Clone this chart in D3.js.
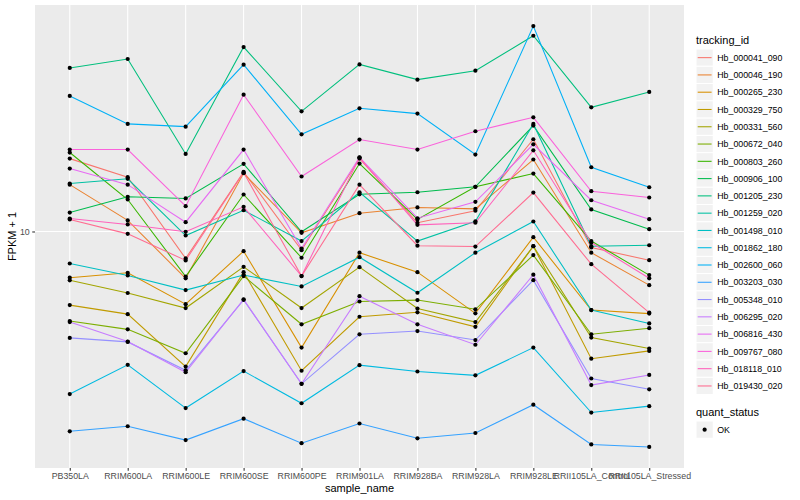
<!DOCTYPE html>
<html>
<head>
<meta charset="utf-8">
<script src="https://cdn.jsdelivr.net/npm/d3@7"></script>
<style>
  body { margin: 0; background: #fff; }
  text { font-family: "Liberation Sans", Arial, Helvetica, sans-serif; }
</style>
</head>
<body>
<svg id="chart" width="800" height="500"></svg>
<script>
const samples = ["PB350LA", "RRIM600LA", "RRIM600LE", "RRIM600SE", "RRIM600PE", "RRIM901LA",
  "RRIM928BA", "RRIM928LA", "RRIM928LE", "RRII105LA_Control", "RRII105LA_Stressed"];

const trackingIds = ["Hb_000041_090", "Hb_000046_190", "Hb_000265_230", "Hb_000329_750", "Hb_000331_560",
  "Hb_000672_040", "Hb_000803_260", "Hb_000906_100", "Hb_001205_230", "Hb_001259_020",
  "Hb_001498_010", "Hb_001862_180", "Hb_002600_060", "Hb_003203_030", "Hb_005348_010",
  "Hb_006295_020", "Hb_006816_430", "Hb_009767_080", "Hb_018118_010", "Hb_019430_020"];

// FPKM + 1 per sample, one array per gene (same order as samples)
const hb000041_090 = [16.39, 14.45, 8.33, 14.98, 8.81, 16.39, 10.61, 11.51, 18.69, 8.97, 8.23];
const hb000046_190 = [13.74, 10.78, 7.28, 14.84, 9.91, 11.32, 11.77, 11.66, 16.29, 8.66, 6.95];
const hb000265_230 = [7.31, 7.56, 6.11, 8.75, 4.55, 8.66, 7.59, 5.74, 9.62, 5.87, 5.73];
const hb000329_750 = [6.07, 5.71, 4.00, 7.59, 3.89, 5.61, 5.78, 5.24, 9.05, 4.22, 4.45];
const hb000331_560 = [7.18, 6.59, 5.95, 7.87, 5.95, 7.85, 5.93, 5.41, 9.05, 4.87, 4.52];
const hb000672_040 = [5.45, 5.15, 4.38, 7.39, 5.33, 6.22, 6.28, 5.90, 8.52, 4.98, 5.19];
const hb000803_260 = [17.08, 12.42, 7.37, 12.85, 8.37, 15.85, 10.85, 13.54, 14.81, 9.37, 7.44];
const hb000906_100 = [11.37, 12.65, 12.51, 15.82, 9.98, 12.87, 13.05, 13.54, 20.50, 11.61, 10.16];
const hb001205_230 = [30.31, 32.21, 16.92, 34.93, 22.59, 31.05, 28.00, 29.75, 37.71, 23.21, 25.76];
const hb001259_020 = [13.84, 14.29, 9.73, 11.55, 9.37, 13.05, 9.37, 10.72, 20.74, 9.05, 9.11];
const hb001498_010 = [8.05, 7.42, 6.72, 7.44, 6.89, 8.40, 6.60, 8.66, 10.70, 5.87, 5.36];
const hb001862_180 = [3.32, 4.05, 3.02, 3.88, 3.12, 4.04, 3.87, 3.77, 4.55, 2.93, 3.06];
const hb002600_060 = [25.07, 20.74, 20.36, 30.99, 19.33, 23.05, 22.24, 16.85, 40.27, 15.46, 13.50];
const hb003203_030 = [2.58, 2.67, 2.43, 2.81, 2.38, 2.72, 2.46, 2.55, 3.09, 2.36, 2.32];
const hb005348_010 = [4.86, 4.73, 3.90, 6.29, 3.56, 4.98, 5.09, 4.79, 7.19, 3.69, 3.43];
const hb006295_020 = [5.41, 4.74, 3.85, 6.31, 3.56, 6.45, 5.33, 4.64, 7.46, 3.53, 3.78];
const hb006816_430 = [15.32, 13.74, 10.65, 17.43, 8.91, 16.54, 10.94, 12.23, 18.06, 12.36, 10.87];
const hb009767_080 = [17.43, 17.43, 11.87, 25.29, 14.52, 18.65, 17.43, 19.73, 21.69, 13.14, 12.59];
const hb018118_010 = [10.92, 10.49, 9.98, 11.82, 7.39, 16.51, 10.46, 10.61, 17.34, 9.28, 7.28];
const hb019430_020 = [10.85, 9.84, 8.22, 14.91, 7.39, 13.74, 9.08, 9.03, 13.02, 8.01, 5.77];

const seriesValues = [hb000041_090, hb000046_190, hb000265_230, hb000329_750, hb000331_560,
  hb000672_040, hb000803_260, hb000906_100, hb001205_230, hb001259_020,
  hb001498_010, hb001862_180, hb002600_060, hb003203_030, hb005348_010,
  hb006295_020, hb006816_430, hb009767_080, hb018118_010, hb019430_020];

const yTicks = [10];
const quantStatus = ["OK"];

// ggplot2 default hue palette for 20 levels
const palette = ["#F8766D", "#EA8331", "#D89000", "#C09B00", "#A3A500", "#7CAE00", "#39B600", "#00BB4E",
  "#00BF7D", "#00C1A3", "#00BFC4", "#00BAE0", "#00B0F6", "#35A2FF", "#9590FF", "#C77CFF",
  "#E76BF3", "#FA62DB", "#FF62BC", "#FF6C91"];

const svg = d3.select("#chart");
const panel = { left: 35, right: 684, top: 5, bottom: 468 };

const x = d3.scalePoint()
  .domain(samples)
  .range([panel.left, panel.right])
  .padding(0.6);

// log scale with 5% expansion like ggplot
const allVals = seriesValues.flat();
const lo = Math.log10(d3.min(allVals)), hi = Math.log10(d3.max(allVals));
const pad = (hi - lo) * 0.05;
const y = d3.scaleLog()
  .domain([Math.pow(10, lo - pad), Math.pow(10, hi + pad)])
  .range([panel.bottom, panel.top]);

const color = d3.scaleOrdinal().domain(trackingIds).range(palette);

// panel background + grid
svg.append("rect")
  .attr("x", panel.left).attr("y", panel.top)
  .attr("width", panel.right - panel.left).attr("height", panel.bottom - panel.top)
  .attr("fill", "#EBEBEB");

svg.append("g").selectAll("line.vg")
  .data(samples).join("line")
  .attr("x1", d => x(d)).attr("x2", d => x(d))
  .attr("y1", panel.top).attr("y2", panel.bottom)
  .attr("stroke", "#fff").attr("stroke-width", 1.07);

svg.append("g").selectAll("line.hg")
  .data(yTicks).join("line")
  .attr("x1", panel.left).attr("x2", panel.right)
  .attr("y1", d => y(d)).attr("y2", d => y(d))
  .attr("stroke", "#fff").attr("stroke-width", 1.07);

// lines
const lineGen = d3.line()
  .x((d, i) => x(samples[i]))
  .y(d => y(d));

svg.append("g").selectAll("path")
  .data(seriesValues).join("path")
  .attr("d", d => lineGen(d))
  .attr("fill", "none")
  .attr("stroke", (d, i) => color(trackingIds[i]))
  .attr("stroke-width", 1.07);

// points
const pts = [];
seriesValues.forEach(vals => vals.forEach((v, i) => pts.push({ s: samples[i], v: v })));
svg.append("g").selectAll("circle")
  .data(pts).join("circle")
  .attr("cx", d => x(d.s)).attr("cy", d => y(d.v))
  .attr("r", 2.1).attr("fill", "#000");

// axes
const xAxis = d3.axisBottom(x).tickSize(2.75).tickPadding(2.5);
const gx = svg.append("g").attr("transform", `translate(0,${panel.bottom})`).call(xAxis);
const yAxis = d3.axisLeft(y).tickValues(yTicks).tickFormat(d3.format("d")).tickSize(2.75).tickPadding(2.5);
const gy = svg.append("g").attr("transform", `translate(${panel.left},0)`).call(yAxis);
[gx, gy].forEach(g => {
  g.select(".domain").remove();
  g.selectAll(".tick line").attr("stroke", "#333333").attr("stroke-width", 1.07);
  g.selectAll(".tick text").attr("fill", "#4D4D4D").style("font-size", "8.8px")
    .style("font-family", "'Liberation Sans', Arial, sans-serif");
});

// axis titles
svg.append("text")
  .attr("x", (panel.left + panel.right) / 2).attr("y", 492)
  .attr("text-anchor", "middle").style("font-size", "11px").text("sample_name");
svg.append("text")
  .attr("transform", `translate(16,${(panel.top + panel.bottom) / 2}) rotate(-90)`)
  .attr("text-anchor", "middle").style("font-size", "11px").text("FPKM + 1");

// legend: tracking_id
const lg = svg.append("g").attr("transform", "translate(696,0)");
const keySize = 17.28;
lg.append("text").attr("x", 0).attr("y", 44).style("font-size", "11px").text("tracking_id");
const rows = lg.selectAll("g.row")
  .data(trackingIds).join("g")
  .attr("transform", (d, i) => `translate(0,${49 + i * keySize})`);
rows.append("rect")
  .attr("width", keySize).attr("height", keySize)
  .attr("fill", "#F2F2F2").attr("stroke", "#fff").attr("stroke-width", 1);
rows.append("line")
  .attr("x1", 1.7).attr("x2", keySize - 1.7)
  .attr("y1", keySize / 2).attr("y2", keySize / 2)
  .attr("stroke", d => color(d)).attr("stroke-width", 1.07);
rows.append("text")
  .attr("x", keySize + 4).attr("y", keySize / 2 + 3.2)
  .style("font-size", "8.8px").text(d => d);

// legend: quant_status
const lq = svg.append("g").attr("transform", "translate(696,0)");
lq.append("text").attr("x", 0).attr("y", 416).style("font-size", "11px").text("quant_status");
const qrows = lq.selectAll("g.row")
  .data(quantStatus).join("g")
  .attr("transform", (d, i) => `translate(0,${421 + i * keySize})`);
qrows.append("rect")
  .attr("width", keySize).attr("height", keySize)
  .attr("fill", "#F2F2F2").attr("stroke", "#fff").attr("stroke-width", 1);
qrows.append("circle")
  .attr("cx", keySize / 2).attr("cy", keySize / 2).attr("r", 2.1).attr("fill", "#000");
qrows.append("text")
  .attr("x", keySize + 4).attr("y", keySize / 2 + 3.2)
  .style("font-size", "8.8px").text(d => d);
</script>
</body>
</html>
